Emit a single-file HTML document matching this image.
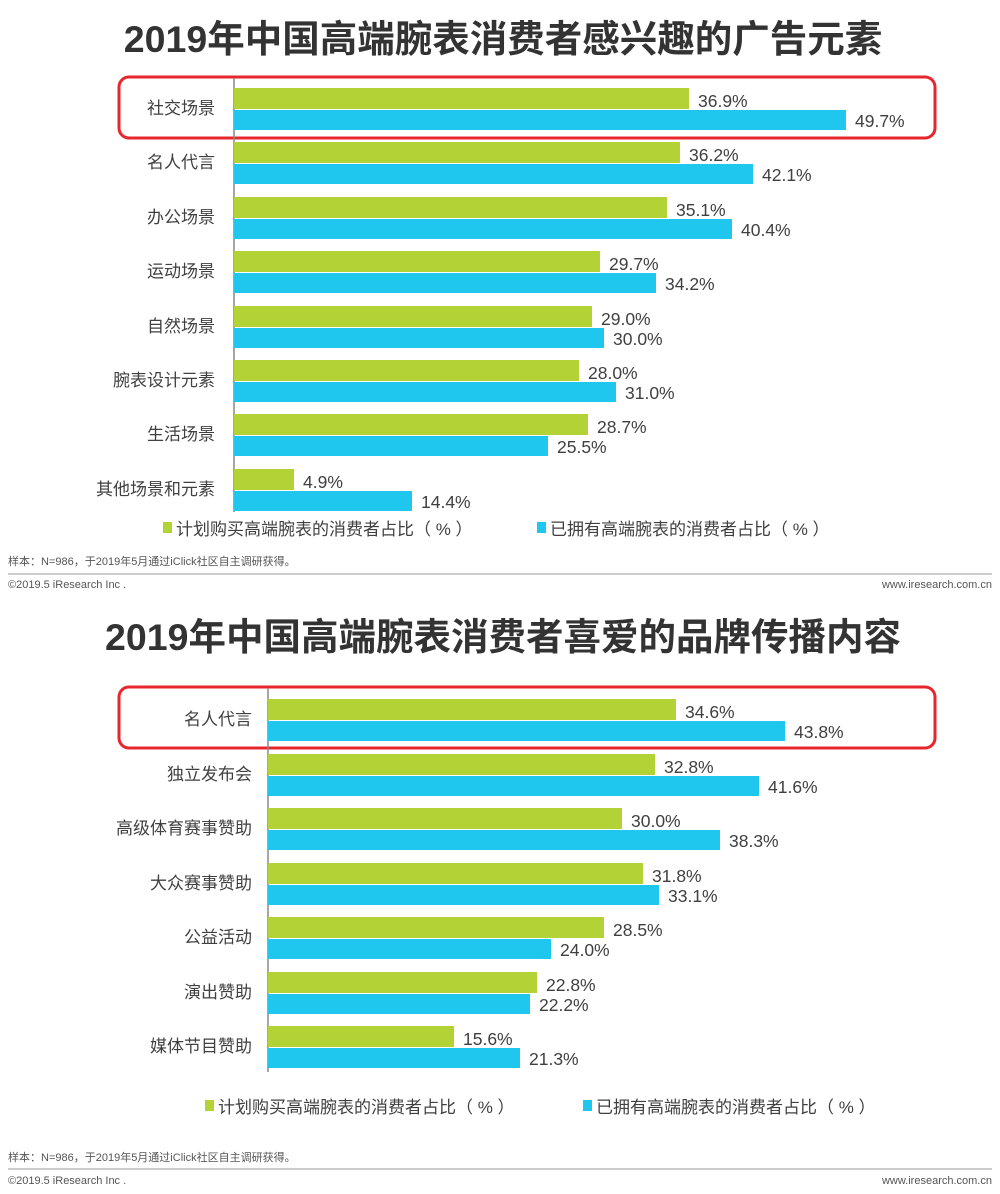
<!DOCTYPE html>
<html><head><meta charset="utf-8"><style>
html,body{margin:0;padding:0;background:#fff;}
svg{display:block;}
text{font-family:"Liberation Sans","Noto Sans CJK SC",sans-serif;fill:#404040;}
.t{font-weight:bold;font-size:37.5px;fill:#333;}
.l{font-size:17px;text-anchor:end;}
.v{font-size:17.5px;}
.lg{font-size:17px;}
.s{font-size:11px;fill:#555;}
</style></head><body>
<svg width="1000" height="1194" viewBox="0 0 1000 1194">
<text class="t" x="503" y="52" text-anchor="middle">2019年中国高端腕表消费者感兴趣的广告元素</text>
<rect x="119" y="77" width="816" height="61" rx="10" fill="none" stroke="#e8262d" stroke-width="3"/>
<line x1="234" y1="78" x2="234" y2="512" stroke="#888" stroke-width="1.5"/>
<g>
<rect x="234" y="88" width="455" height="21" fill="#b2d235"/><rect x="234" y="110" width="612" height="20" fill="#1fc7ef"/>
<text class="l" x="215" y="114">社交场景</text><text class="v" x="698" y="107">36.9%</text><text class="v" x="855" y="127">49.7%</text>
<rect x="234" y="142" width="446" height="21" fill="#b2d235"/><rect x="234" y="164" width="519" height="20" fill="#1fc7ef"/>
<text class="l" x="215" y="168">名人代言</text><text class="v" x="689" y="161">36.2%</text><text class="v" x="762" y="181">42.1%</text>
<rect x="234" y="197" width="433" height="21" fill="#b2d235"/><rect x="234" y="219" width="498" height="20" fill="#1fc7ef"/>
<text class="l" x="215" y="223">办公场景</text><text class="v" x="676" y="216">35.1%</text><text class="v" x="741" y="236">40.4%</text>
<rect x="234" y="251" width="366" height="21" fill="#b2d235"/><rect x="234" y="273" width="422" height="20" fill="#1fc7ef"/>
<text class="l" x="215" y="277">运动场景</text><text class="v" x="609" y="270">29.7%</text><text class="v" x="665" y="290">34.2%</text>
<rect x="234" y="306" width="358" height="21" fill="#b2d235"/><rect x="234" y="328" width="370" height="20" fill="#1fc7ef"/>
<text class="l" x="215" y="332">自然场景</text><text class="v" x="601" y="325">29.0%</text><text class="v" x="613" y="345">30.0%</text>
<rect x="234" y="360" width="345" height="21" fill="#b2d235"/><rect x="234" y="382" width="382" height="20" fill="#1fc7ef"/>
<text class="l" x="215" y="386">腕表设计元素</text><text class="v" x="588" y="379">28.0%</text><text class="v" x="625" y="399">31.0%</text>
<rect x="234" y="414" width="354" height="21" fill="#b2d235"/><rect x="234" y="436" width="314" height="20" fill="#1fc7ef"/>
<text class="l" x="215" y="440">生活场景</text><text class="v" x="597" y="433">28.7%</text><text class="v" x="557" y="453">25.5%</text>
<rect x="234" y="469" width="60" height="21" fill="#b2d235"/><rect x="234" y="491" width="178" height="20" fill="#1fc7ef"/>
<text class="l" x="215" y="495">其他场景和元素</text><text class="v" x="303" y="488">4.9%</text><text class="v" x="421" y="508">14.4%</text>
</g>
<rect x="163" y="522" width="9" height="11" fill="#b2d235"/><text class="lg" x="176" y="535">计划购买高端腕表的消费者占比（ % ）</text>
<rect x="537" y="522" width="9" height="11" fill="#1fc7ef"/><text class="lg" x="550" y="535">已拥有高端腕表的消费者占比（ % ）</text>
<text class="s" x="8" y="565">样本：N=986，于2019年5月通过iClick社区自主调研获得。</text>
<line x1="8" y1="574" x2="992" y2="574" stroke="#999" stroke-width="1"/>
<text class="s" x="8" y="588">©2019.5 iResearch Inc .</text>
<text class="s" x="992" y="588" text-anchor="end">www.iresearch.com.cn</text>

<text class="t" x="503" y="650" text-anchor="middle">2019年中国高端腕表消费者喜爱的品牌传播内容</text>
<rect x="119" y="687" width="816" height="61" rx="10" fill="none" stroke="#e8262d" stroke-width="3"/>
<line x1="268" y1="688" x2="268" y2="1072" stroke="#888" stroke-width="1.5"/>
<g>
<rect x="268" y="699" width="408" height="21" fill="#b2d235"/><rect x="268" y="721" width="517" height="20" fill="#1fc7ef"/>
<text class="l" x="252" y="725">名人代言</text><text class="v" x="685" y="718">34.6%</text><text class="v" x="794" y="738">43.8%</text>
<rect x="268" y="754" width="387" height="21" fill="#b2d235"/><rect x="268" y="776" width="491" height="20" fill="#1fc7ef"/>
<text class="l" x="252" y="780">独立发布会</text><text class="v" x="664" y="773">32.8%</text><text class="v" x="768" y="793">41.6%</text>
<rect x="268" y="808" width="354" height="21" fill="#b2d235"/><rect x="268" y="830" width="452" height="20" fill="#1fc7ef"/>
<text class="l" x="252" y="834">高级体育赛事赞助</text><text class="v" x="631" y="827">30.0%</text><text class="v" x="729" y="847">38.3%</text>
<rect x="268" y="863" width="375" height="21" fill="#b2d235"/><rect x="268" y="885" width="391" height="20" fill="#1fc7ef"/>
<text class="l" x="252" y="889">大众赛事赞助</text><text class="v" x="652" y="882">31.8%</text><text class="v" x="668" y="902">33.1%</text>
<rect x="268" y="917" width="336" height="21" fill="#b2d235"/><rect x="268" y="939" width="283" height="20" fill="#1fc7ef"/>
<text class="l" x="252" y="943">公益活动</text><text class="v" x="613" y="936">28.5%</text><text class="v" x="560" y="956">24.0%</text>
<rect x="268" y="972" width="269" height="21" fill="#b2d235"/><rect x="268" y="994" width="262" height="20" fill="#1fc7ef"/>
<text class="l" x="252" y="998">演出赞助</text><text class="v" x="546" y="991">22.8%</text><text class="v" x="539" y="1011">22.2%</text>
<rect x="268" y="1026" width="186" height="21" fill="#b2d235"/><rect x="268" y="1048" width="252" height="20" fill="#1fc7ef"/>
<text class="l" x="252" y="1052">媒体节目赞助</text><text class="v" x="463" y="1045">15.6%</text><text class="v" x="529" y="1065">21.3%</text>
</g>
<rect x="205" y="1100" width="9" height="11" fill="#b2d235"/><text class="lg" x="218" y="1113">计划购买高端腕表的消费者占比（ % ）</text>
<rect x="583" y="1100" width="9" height="11" fill="#1fc7ef"/><text class="lg" x="596" y="1113">已拥有高端腕表的消费者占比（ % ）</text>
<text class="s" x="8" y="1161">样本：N=986，于2019年5月通过iClick社区自主调研获得。</text>
<line x1="8" y1="1169" x2="992" y2="1169" stroke="#999" stroke-width="1"/>
<text class="s" x="8" y="1184">©2019.5 iResearch Inc .</text>
<text class="s" x="992" y="1184" text-anchor="end">www.iresearch.com.cn</text>
</svg>
</body></html>
